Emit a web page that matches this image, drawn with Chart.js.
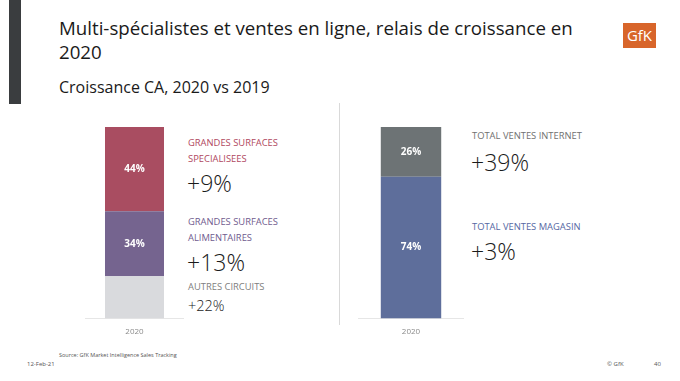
<!DOCTYPE html>
<html>
<head>
<meta charset="utf-8">
<script src="https://cdn.jsdelivr.net/npm/chart.js@4"></script>
<style>
  body { margin: 0; background: #fff; font-family: "Open Sans", sans-serif; }
  #page { position: relative; width: 680px; height: 381px; overflow: hidden; }
  .abs { position: absolute; white-space: nowrap; }
  .cat { font-size: 9.4px; line-height: 16px; }
  .big { font-size: 23px; color: #1a1a1a; font-weight: 300; }
  .mid { font-size: 14.5px; color: #1a1a1a; font-weight: 300; }
</style>
</head>
<body>
<div id="page">
  <div class="abs" style="left:9px;top:0;width:12px;height:104px;background:#3a3d3f;"></div>
  <div class="abs" style="left:59px;top:16px;font-size:18.7px;line-height:24px;color:#1a1a1a;">Multi-spécialistes et ventes en ligne, relais de croissance en<br>2020</div>
  <div class="abs" style="left:59px;top:76px;font-size:16px;color:#1a1a1a;">Croissance CA, 2020 vs 2019</div>
  <div class="abs" style="left:623px;top:23px;width:33px;height:25px;background:#d8652a;color:#fff;font-size:15px;line-height:25px;text-align:center;">GfK</div>

  <div class="abs" style="left:339px;top:103px;width:1px;height:222px;background:#d9d9d9;"></div>

  <div class="abs" style="left:85px;top:110px;width:99px;height:228px;"><canvas id="leftChart"></canvas></div>
  <div class="abs" style="left:358px;top:110px;width:106px;height:228px;"><canvas id="rightChart"></canvas></div>

  <div class="abs cat" style="left:188px;top:135px;color:#b0475e;">GRANDES SURFACES<br>SPECIALISEES</div>
  <div class="abs big" style="left:187px;top:167px;">+9%</div>
  <div class="abs cat" style="left:188px;top:214px;color:#6f5b8e;">GRANDES SURFACES<br>ALIMENTAIRES</div>
  <div class="abs big" style="left:187px;top:246px;">+13%</div>
  <div class="abs cat" style="left:188px;top:279px;color:#808080;">AUTRES CIRCUITS</div>
  <div class="abs mid" style="left:188px;top:296px;">+22%</div>

  <div class="abs cat" style="left:472px;top:128px;color:#707070;">TOTAL VENTES INTERNET</div>
  <div class="abs big" style="left:471px;top:146px;">+39%</div>
  <div class="abs cat" style="left:472px;top:219px;color:#5567a3;">TOTAL VENTES MAGASIN</div>
  <div class="abs big" style="left:471px;top:235px;">+3%</div>

  <div class="abs" style="left:59px;top:351px;font-size:5.5px;color:#555;">Source: GfK Market Intelligence Sales Tracking</div>
  <div class="abs" style="left:27px;top:360px;font-size:6px;color:#555;">12-Feb-21</div>
  <div class="abs" style="left:607px;top:360px;font-size:6px;color:#555;">© GfK</div>
  <div class="abs" style="left:654px;top:360px;font-size:6px;color:#555;">40</div>
</div>
<script>
const categories = ['2020']
const leftSeries = ['AUTRES CIRCUITS', 'GRANDES SURFACES ALIMENTAIRES', 'GRANDES SURFACES SPECIALISEES']
const leftValues = [22, 34, 44]
const leftShowLabel = [false, true, true]
const leftColors = ['#d9dadd', '#75648f', '#a94d61']
const rightSeries = ['TOTAL VENTES MAGASIN', 'TOTAL VENTES INTERNET']
const rightValues = [74, 26]
const rightShowLabel = [true, true]
const rightColors = ['#5e6e9b', '#6d7375']

// writes the share inside each stacked segment
const segmentLabels = {
  id: 'segmentLabels',
  afterDatasetsDraw(chart, args, opts) {
    const ctx = chart.ctx
    ctx.save()
    ctx.fillStyle = '#fff'
    ctx.font = 'bold 10px "Open Sans"'
    ctx.textAlign = 'center'
    ctx.textBaseline = 'middle'
    chart.data.datasets.forEach((ds, i) => {
      if (!opts.show[i]) return
      chart.getDatasetMeta(i).data.forEach((bar, j) => {
        ctx.fillText(ds.data[j] + '%', bar.x, (bar.y + bar.base) / 2)
      })
    })
    ctx.restore()
  },
}

function makeChart(id, series, values, colors, show, barPct) {
  const ctx = document.getElementById(id).getContext('2d')
  return new Chart(ctx, {
    type: 'bar',
    data: {
      labels: categories,
      datasets: series.map((name, i) => ({
        label: name,
        data: [values[i]],
        backgroundColor: colors[i],
        borderWidth: 0,
        categoryPercentage: 1,
        barPercentage: barPct,
      })),
    },
    options: {
      responsive: true,
      maintainAspectRatio: false,
      animation: false,
      layout: { padding: { top: 17, left: 0, right: 0, bottom: 0 } },
      plugins: {
        legend: { display: false },
        tooltip: { enabled: false },
        segmentLabels: { show: show },
      },
      scales: {
        x: {
          stacked: true,
          grid: { display: false },
          border: { color: '#e6e6e6', width: 1 },
          ticks: { color: '#8a8a8a', font: { size: 8, family: 'Open Sans' }, padding: 1 },
        },
        y: { stacked: true, display: false, min: 0, max: 100 },
      },
    },
    plugins: [segmentLabels],
  })
}

makeChart('leftChart', leftSeries, leftValues, leftColors, leftShowLabel, 0.596)
makeChart('rightChart', rightSeries, rightValues, rightColors, rightShowLabel, 0.57)
</script>
</body>
</html>
